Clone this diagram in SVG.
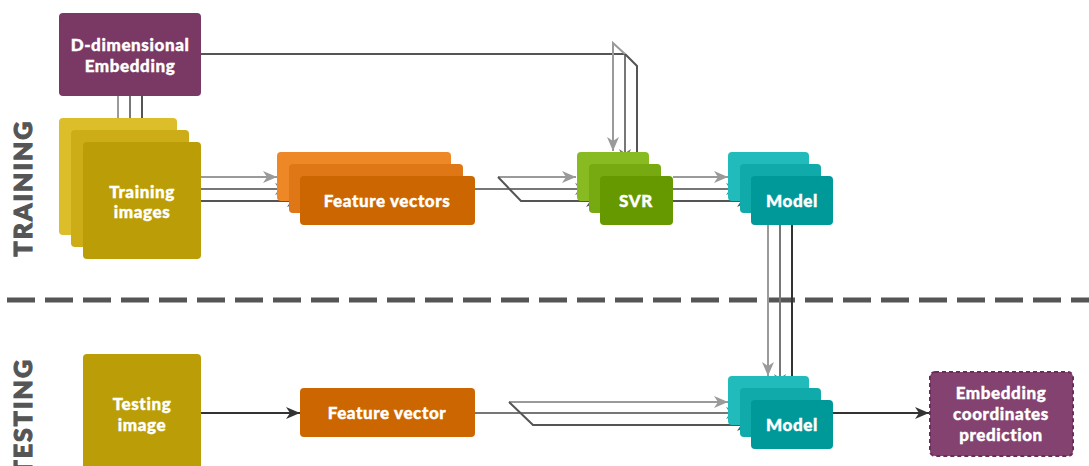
<svg xmlns="http://www.w3.org/2000/svg" width="1089" height="466" viewBox="0 0 1089 466">
  <defs>
    <style>
      .lbl { font-family: Lato, "Open Sans", "DejaVu Sans", sans-serif; font-weight: 900; font-size: 17px; fill: #ffffff; stroke: #ffffff; stroke-width: 0.4px; text-anchor: middle; letter-spacing: 0.6px; }
      .phase { font-family: Lato, "Open Sans", "DejaVu Sans", sans-serif; font-weight: 900; font-size: 25px; fill: #555555; stroke: #555555; stroke-width: 1.1px; letter-spacing: 2px; }
      .ln { fill: none; stroke-width: 2; }
      .c1 { stroke: #9a9a9a; }
      .c2 { stroke: #777777; }
      .c3 { stroke: #555555; }
      .c4 { stroke: #333333; }
    </style>
    <marker id="a1" markerUnits="userSpaceOnUse" markerWidth="14" markerHeight="12" refX="14" refY="6" orient="auto">
      <path d="M0,0 L14,6 L0,12 L4,6 z" fill="#9a9a9a"/>
    </marker>
    <marker id="a2" markerUnits="userSpaceOnUse" markerWidth="14" markerHeight="12" refX="14" refY="6" orient="auto">
      <path d="M0,0 L14,6 L0,12 L4,6 z" fill="#777777"/>
    </marker>
    <marker id="a3" markerUnits="userSpaceOnUse" markerWidth="14" markerHeight="12" refX="14" refY="6" orient="auto">
      <path d="M0,0 L14,6 L0,12 L4,6 z" fill="#555555"/>
    </marker>
    <marker id="a4" markerUnits="userSpaceOnUse" markerWidth="14" markerHeight="12" refX="14" refY="6" orient="auto">
      <path d="M0,0 L14,6 L0,12 L4,6 z" fill="#333333"/>
    </marker>
  </defs>

  <rect width="1089" height="466" fill="#ffffff"/>

  <!-- phase labels and separator -->
  <text class="phase" transform="translate(32,188) rotate(-90)" text-anchor="middle">TRAINING</text>
  <text class="phase" transform="translate(32,358) rotate(-90)" text-anchor="end">TESTING</text>
  <line x1="7" y1="300" x2="1089" y2="300" stroke="#555555" stroke-width="5" stroke-dasharray="28 10"/>

  <!-- connectors -->
  <g id="connectors">
    <!-- embedding to training images -->
    <line class="ln c1" x1="118" y1="96" x2="118" y2="118"/>
    <line class="ln c2" x1="130" y1="96" x2="130" y2="130"/>
    <line class="ln c3" x1="142" y1="96" x2="142" y2="142"/>
    <!-- training images to feature vectors -->
    <line class="ln c1" x1="201" y1="177" x2="277" y2="177" marker-end="url(#a1)"/>
    <line class="ln c2" x1="201" y1="189" x2="289" y2="189" marker-end="url(#a2)"/>
    <line class="ln c3" x1="201" y1="201" x2="301" y2="201" marker-end="url(#a3)"/>
    <!-- feature vectors to SVR -->
    <polyline class="ln c1" points="498,177 576,177" marker-end="url(#a1)"/>
    <polyline class="ln c2" points="475,189 589,189" marker-end="url(#a2)"/>
    <polyline class="ln c3" points="498,177 521,201 600,201" marker-end="url(#a3)"/>
    <!-- embedding to SVR -->
    <polyline class="ln c3" points="201,54 625,54"/>
    <polyline class="ln c1" points="625,54 613,43 613,151" marker-end="url(#a1)"/>
    <polyline class="ln c2" points="625,54 625,163" marker-end="url(#a2)"/>
    <polyline class="ln c3" points="625,54 637,66 637,176" marker-end="url(#a3)"/>
    <!-- SVR to model -->
    <line class="ln c1" x1="673" y1="177" x2="728" y2="177" marker-end="url(#a1)"/>
    <line class="ln c2" x1="673" y1="189" x2="740" y2="189" marker-end="url(#a2)"/>
    <line class="ln c3" x1="673" y1="201" x2="751" y2="201" marker-end="url(#a3)"/>
    <!-- trained model to testing model -->
    <line class="ln c1" x1="768" y1="225" x2="768" y2="376" marker-end="url(#a1)"/>
    <line class="ln c2" x1="780" y1="225" x2="780" y2="388" marker-end="url(#a2)"/>
    <line class="ln c4" x1="792" y1="225" x2="792" y2="400" marker-end="url(#a4)"/>
    <!-- testing image to feature vector -->
    <line class="ln c4" x1="201" y1="413" x2="300" y2="413" marker-end="url(#a4)"/>
    <!-- feature vector to testing model -->
    <polyline class="ln c1" points="509,402 728,402" marker-end="url(#a1)"/>
    <polyline class="ln c2" points="475,413 740,413" marker-end="url(#a2)"/>
    <polyline class="ln c3" points="509,402 533,425 751,425" marker-end="url(#a3)"/>
    <!-- testing model to prediction -->
    <line class="ln c4" x1="833" y1="413" x2="929" y2="413" marker-end="url(#a4)"/>
  </g>

  <!-- nodes -->
  <g id="embedding">
    <rect x="59" y="13" width="142" height="83" rx="4" fill="#7a3864"/>
    <text class="lbl" x="130" y="51">D-dimensional</text>
    <text class="lbl" x="130" y="72">Embedding</text>
  </g>

  <g id="training-images">
    <rect x="59" y="118" width="118" height="117" rx="4" fill="#dcbd2a"/>
    <rect x="71" y="130" width="118" height="117" rx="4" fill="#ccad18"/>
    <rect x="83" y="142" width="118" height="117" rx="4" fill="#bb9e07"/>
    <text class="lbl" x="142" y="198">Training</text>
    <text class="lbl" x="142" y="218">images</text>
  </g>

  <g id="feature-vectors">
    <rect x="277" y="152" width="174" height="49" rx="4" fill="#ee8826"/>
    <rect x="289" y="164" width="174" height="49" rx="4" fill="#df7716"/>
    <rect x="300" y="176" width="175" height="49" rx="4" fill="#cc6600"/>
    <text class="lbl" x="387" y="207">Feature vectors</text>
  </g>

  <g id="svr">
    <rect x="577" y="152" width="72" height="49" rx="4" fill="#88bb22"/>
    <rect x="589" y="164" width="72" height="49" rx="4" fill="#77aa11"/>
    <rect x="600" y="176" width="73" height="49" rx="4" fill="#669900"/>
    <text class="lbl" x="636" y="207">SVR</text>
  </g>

  <g id="model-train">
    <rect x="728" y="152" width="81" height="49" rx="4" fill="#22bbbb"/>
    <rect x="740" y="164" width="81" height="49" rx="4" fill="#11aaaa"/>
    <rect x="751" y="176" width="82" height="49" rx="4" fill="#009999"/>
    <text class="lbl" x="792" y="207">Model</text>
  </g>

  <g id="testing-image">
    <rect x="83" y="354" width="118" height="120" rx="4" fill="#bb9e07"/>
    <text class="lbl" x="142" y="410">Testing</text>
    <text class="lbl" x="142" y="431">image</text>
  </g>

  <g id="feature-vector">
    <rect x="300" y="388" width="175" height="49" rx="4" fill="#cc6600"/>
    <text class="lbl" x="387" y="419">Feature vector</text>
  </g>

  <g id="model-test">
    <rect x="728" y="376" width="81" height="49" rx="4" fill="#22bbbb"/>
    <rect x="740" y="388" width="81" height="49" rx="4" fill="#11aaaa"/>
    <rect x="751" y="400" width="82" height="49" rx="4" fill="#009999"/>
    <text class="lbl" x="792" y="431">Model</text>
  </g>

  <g id="prediction">
    <rect x="930" y="372" width="143" height="84" rx="5" fill="#83426f" stroke="#6a2f58" stroke-width="2" stroke-dasharray="4 3"/>
    <text class="lbl" x="1001" y="399">Embedding</text>
    <text class="lbl" x="1001" y="420">coordinates</text>
    <text class="lbl" x="1001" y="441">prediction</text>
  </g>
</svg>
